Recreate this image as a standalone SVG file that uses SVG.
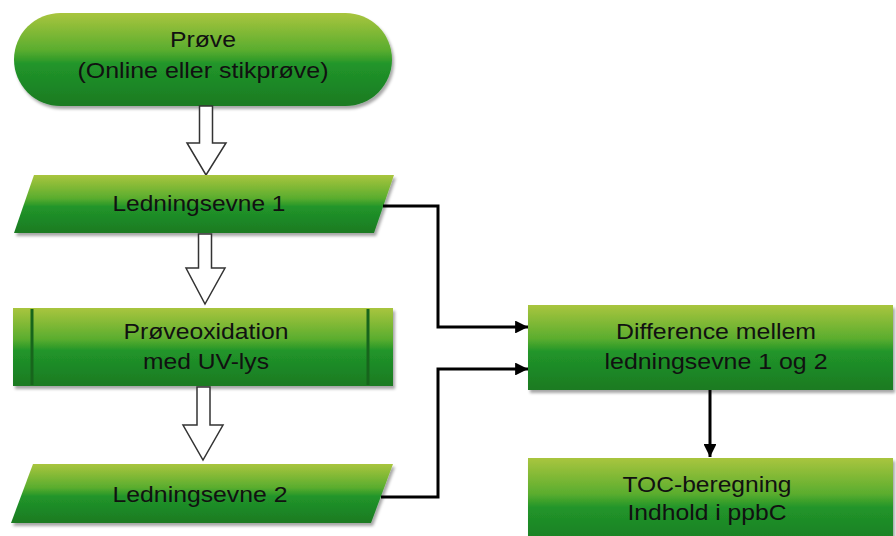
<svg xmlns="http://www.w3.org/2000/svg" width="896" height="536" viewBox="0 0 896 536">
<defs>
<linearGradient id="g" x1="0" y1="0" x2="0" y2="1">
<stop offset="0" stop-color="#a9c53e"/>
<stop offset="0.4" stop-color="#5aad2e"/>
<stop offset="0.55" stop-color="#21952a"/>
<stop offset="1" stop-color="#1a7a22"/>
</linearGradient>
<filter id="sh" x="-5%" y="-10%" width="115%" height="130%">
<feDropShadow dx="2" dy="3" stdDeviation="1.8" flood-color="#000" flood-opacity="0.35"/>
</filter>
<marker id="ah" viewBox="0 0 10 10" refX="10" refY="5" markerWidth="4.3" markerHeight="4.3" orient="auto" markerUnits="strokeWidth">
<path d="M0,0 L10,5 L0,10 Z" fill="#000"/>
</marker>
</defs>
<style>
.n{fill:url(#g);filter:url(#sh)}
.t{font-family:"Liberation Sans",Arial,sans-serif;font-size:22px;fill:#111;text-anchor:middle}
.ba{fill:#fff;stroke:#333;stroke-width:1.5;stroke-linejoin:miter}
.c{fill:none;stroke:#000;stroke-width:3;marker-end:url(#ah)}
.v{stroke:#17651c;stroke-width:3}
</style>
<g id="start">
<rect class="n" x="14" y="13" width="378" height="93" rx="46.5" ry="46.5"/>
<text class="t" x="203" y="47" textLength="66" lengthAdjust="spacingAndGlyphs">Prøve</text>
<text class="t" x="203" y="78" textLength="251" lengthAdjust="spacingAndGlyphs">(Online eller stikprøve)</text>
</g>
<g id="arrow1">
<polygon class="ba" points="199.5,106 212.5,106 212.5,143 226,143 206,175 187,143 199.5,143"/>
</g>
<g id="ledningsevne1">
<polygon class="n" points="34,175 394,175 374,233 14,233"/>
<text class="t" x="199" y="211" textLength="173" lengthAdjust="spacingAndGlyphs">Ledningsevne 1</text>
</g>
<g id="arrow2">
<polygon class="ba" points="198.5,234 211.5,234 211.5,268 225,268 205,304 186,268 198.5,268"/>
</g>
<g id="oxidation">
<rect class="n" x="13" y="308" width="380" height="78"/>
<line class="v" x1="32" y1="309" x2="32" y2="385"/>
<line class="v" x1="368" y1="309" x2="368" y2="385"/>
<text class="t" x="206" y="339" textLength="165" lengthAdjust="spacingAndGlyphs">Prøveoxidation</text>
<text class="t" x="206" y="369" textLength="126" lengthAdjust="spacingAndGlyphs">med UV-lys</text>
</g>
<g id="arrow3">
<polygon class="ba" points="197,387 210,387 210,425 223,425 203,460 183,425 197,425"/>
</g>
<g id="ledningsevne2">
<polygon class="n" points="33,464 393,464 371,523 11,523"/>
<text class="t" x="200" y="502" textLength="175" lengthAdjust="spacingAndGlyphs">Ledningsevne 2</text>
</g>
<g id="difference">
<rect class="n" x="528" y="305" width="365" height="85"/>
<text class="t" x="716" y="339" textLength="200" lengthAdjust="spacingAndGlyphs">Difference mellem</text>
<text class="t" x="716" y="369" textLength="223" lengthAdjust="spacingAndGlyphs">ledningsevne 1 og 2</text>
</g>
<g id="toc">
<rect class="n" x="528" y="458" width="365" height="90"/>
<text class="t" x="707" y="492" textLength="169" lengthAdjust="spacingAndGlyphs">TOC-beregning</text>
<text class="t" x="707" y="520" textLength="159" lengthAdjust="spacingAndGlyphs">Indhold i ppbC</text>
</g>
<g id="connectors">
<polyline class="c" points="383,206 438,206 438,327 528,327"/>
<polyline class="c" points="381,497 438,497 438,369 528,369"/>
<line class="c" x1="710" y1="390" x2="710" y2="457"/>
</g>
</svg>
